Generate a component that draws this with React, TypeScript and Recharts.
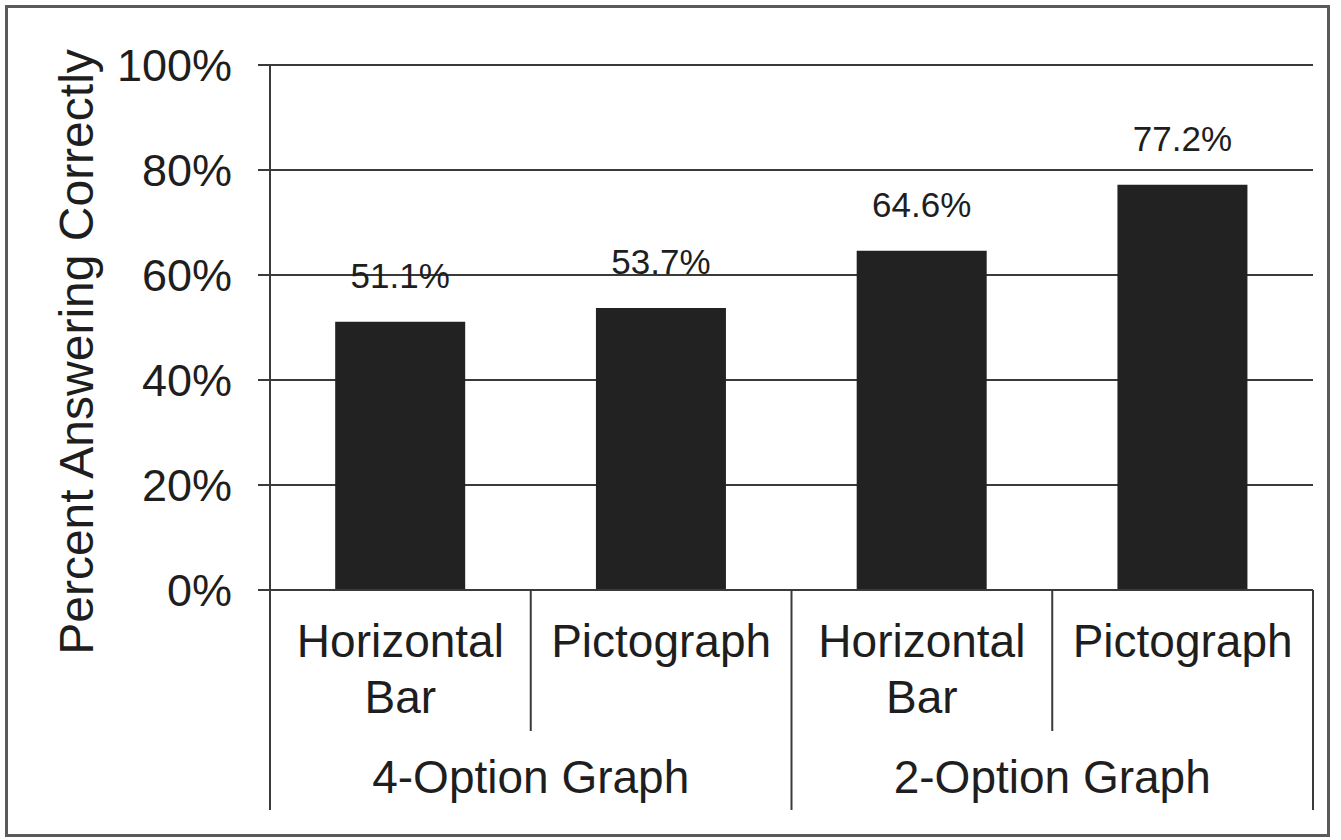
import { BarChart, Bar, XAxis, YAxis, CartesianGrid, LabelList } from 'recharts'

const GROUPS = ['4-Option Graph', '2-Option Graph']
const GRAPH_TYPES = ['Horizontal Bar', 'Pictograph']
const PERCENT_CORRECT = [51.1, 53.7, 64.6, 77.2]
const Y_TICKS = [0, 20, 40, 60, 80, 100]

const data = GROUPS.flatMap((group, g) =>
  GRAPH_TYPES.map((type, t) => ({
    name: type,
    group,
    value: PERCENT_CORRECT[g * GRAPH_TYPES.length + t],
  }))
)

const FONT = '"Liberation Sans", Arial, Helvetica, sans-serif'
const INK = '#1e1e1e'
const LINE = '#3a3a3a'

const WIDTH = 1341
const HEIGHT = 840
const MARGIN = { top: 65, right: 28, left: 120, bottom: 20 }
const Y_AXIS_WIDTH = 150
const X_AXIS_HEIGHT = 230
const PLOT_WIDTH = WIDTH - MARGIN.left - MARGIN.right - Y_AXIS_WIDTH
const BAND = PLOT_WIDTH / data.length

// category name (wrapped by word), separators and the group name under each pair
function CategoryTick(props: any) {
  const { x, y, payload } = props
  const index: number = payload.index
  const perGroup = GRAPH_TYPES.length
  const posInGroup = index % perGroup
  const lastInGroup = posInGroup === perGroup - 1
  const words = String(payload.value).split(' ')
  const right = x + BAND / 2
  const left = x - BAND / 2

  return (
    <g>
      {words.map((w, i) => (
        <text
          key={i}
          x={x}
          y={y + 67 + i * 56}
          textAnchor="middle"
          fontSize={46}
          fontFamily={FONT}
          fill={INK}
        >
          {w}
        </text>
      ))}
      {index === 0 && (
        <line x1={left} x2={left} y1={y} y2={y + 220} stroke={LINE} strokeWidth={2} />
      )}
      <line
        x1={right}
        x2={right}
        y1={y}
        y2={y + (lastInGroup ? 220 : 141)}
        stroke={LINE}
        strokeWidth={2}
      />
      {posInGroup === 0 && (
        <text
          x={x + (BAND * (perGroup - 1)) / 2}
          y={y + 203}
          textAnchor="middle"
          fontSize={46}
          fontFamily={FONT}
          fill={INK}
        >
          {data[index].group}
        </text>
      )}
    </g>
  )
}

export default function App() {
  return (
    <div style={{ position: 'absolute', left: 0, top: 0, width: WIDTH, height: HEIGHT, background: '#fff' }}>
      <div
        style={{
          position: 'absolute',
          left: 5,
          top: 5,
          width: 1325,
          height: 832,
          border: '3px solid #5a5a5a',
          boxSizing: 'border-box',
        }}
      />
      <BarChart
        width={WIDTH}
        height={HEIGHT}
        data={data}
        margin={MARGIN}
        barCategoryGap="25%"
        style={{ position: 'absolute', left: 0, top: 0 }}
      >
        <CartesianGrid vertical={false} stroke={LINE} strokeWidth={2} />
        <XAxis
          dataKey="name"
          interval={0}
          height={X_AXIS_HEIGHT}
          tickLine={false}
          tickSize={0}
          tickMargin={0}
          axisLine={{ stroke: LINE, strokeWidth: 2 }}
          tick={<CategoryTick />}
        />
        <YAxis
          width={Y_AXIS_WIDTH}
          domain={[0, 100]}
          ticks={Y_TICKS}
          interval={0}
          tickFormatter={(v: number) => `${v}%`}
          tickSize={12}
          tickMargin={26}
          tickLine={{ stroke: LINE, strokeWidth: 2 }}
          axisLine={{ stroke: LINE, strokeWidth: 2 }}
          tick={{ fontSize: 45, fontFamily: FONT, fill: INK }}
          label={{
            content: () => (
              <text
                x={93}
                y={352}
                transform="rotate(-90 93 352)"
                textAnchor="middle"
                fontSize={48}
                fontFamily={FONT}
                fill={INK}
              >
                Percent Answering Correctly
              </text>
            ),
          }}
        />
        <YAxis
          yAxisId="frame"
          orientation="right"
          width={0}
          tick={false}
          tickLine={false}
          axisLine={{ stroke: LINE, strokeWidth: 2 }}
        />
        <Bar dataKey="value" fill="#222222" isAnimationActive={false}>
          <LabelList
            dataKey="value"
            position="top"
            offset={34}
            formatter={(v: any) => `${Number(v).toFixed(1)}%`}
            style={{ fontSize: 35, fontFamily: FONT, fill: INK }}
          />
        </Bar>
      </BarChart>
    </div>
  )
}
